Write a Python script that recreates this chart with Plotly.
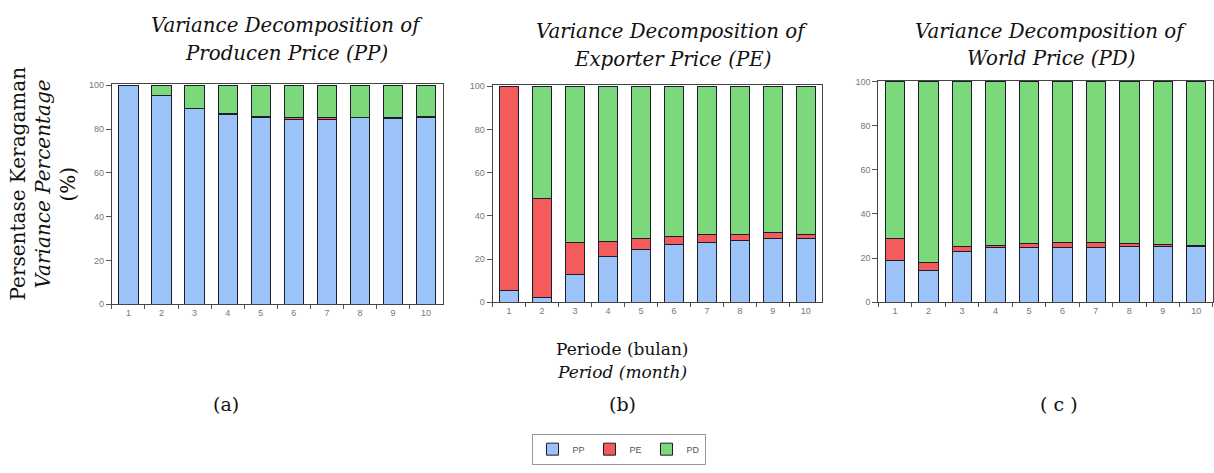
import plotly.graph_objects as go

periods = ["1", "2", "3", "4", "5", "6", "7", "8", "9", "10"]

# Panel (a): Variance Decomposition of Producen Price (PP)
a_pp = [100.0, 95.1, 89.2, 86.6, 85.1, 84.4, 84.4, 85.1, 84.8, 85.1]
a_pe = [0.0, 0.2, 0.3, 0.3, 0.4, 0.7, 0.7, 0.3, 0.3, 0.5]
a_pd = [0.0, 4.7, 10.5, 13.1, 14.5, 14.9, 14.9, 14.6, 14.9, 14.4]

# Panel (b): Variance Decomposition of Exporter Price (PE)
b_pp = [5.5, 2.3, 12.6, 21.1, 24.4, 26.9, 27.8, 28.5, 29.4, 29.4]
b_pe = [94.5, 45.8, 15.2, 7.1, 5.2, 3.4, 3.6, 3.0, 2.8, 2.1]
b_pd = [0.0, 51.9, 72.2, 71.8, 70.4, 69.7, 68.6, 68.5, 67.8, 68.5]

# Panel (c): Variance Decomposition of World Price (PD)
c_pp = [18.7, 14.6, 22.8, 24.6, 24.6, 25.0, 25.0, 25.3, 25.1, 25.1]
c_pe = [10.4, 3.3, 2.5, 1.0, 2.2, 2.2, 2.2, 1.2, 1.2, 0.7]
c_pd = [70.9, 82.1, 74.7, 74.4, 73.2, 72.8, 72.8, 73.5, 73.7, 74.2]

series_names = ["PP", "PE", "PD"]
colors = {"PP": "#9cc3f7", "PE": "#f45b5b", "PD": "#7bd87b"}
edge = "#1c1c2a"

panels = [
    ("x", "y", [a_pp, a_pe, a_pd]),
    ("x2", "y2", [b_pp, b_pe, b_pd]),
    ("x3", "y3", [c_pp, c_pe, c_pd]),
]

W, H = 1214, 473

def px(v):
    return v / W

def py(v):
    return 1 - v / H

fig = go.Figure()
for i, (xa, ya, vals) in enumerate(panels):
    for name, v in zip(series_names, vals):
        fig.add_trace(go.Bar(
            x=periods, y=v, name=name, xaxis=xa, yaxis=ya,
            marker=dict(color=colors[name], line=dict(color=edge, width=1)),
            showlegend=(i == 0), legendgroup=name,
        ))

domains_x = [(112, 443), (493, 823), (879, 1214)]
domains_y = [(306, 81.7), (304, 82.7), (304, 78)]

tickfont = dict(family="Liberation Sans, Arial, sans-serif", size=9, color="#777")
layout_axes = {}
for i in range(3):
    sx = "" if i == 0 else str(i + 1)
    dx = domains_x[i]
    dy = domains_y[i]
    layout_axes["xaxis" + sx] = dict(
        domain=[px(dx[0]), px(dx[1])], anchor="y" + sx, type="category",
        tickson="boundaries", ticks="outside", ticklen=4, tickcolor="#555",
        showline=True, linecolor="#444", linewidth=1, mirror=True,
        tickfont=tickfont, showgrid=False, zeroline=False,
    )
    layout_axes["yaxis" + sx] = dict(
        domain=[py(dy[0]), py(dy[1])], anchor="x" + sx, range=[0, 100.5],
        tickvals=[0, 20, 40, 60, 80, 100], ticks="outside", ticklen=5,
        tickcolor="#555", showline=True, linecolor="#444", linewidth=1,
        mirror=True, tickfont=tickfont, showgrid=False, zeroline=False,
    )

serif = "DejaVu Serif, serif"
ann = []
titles = [
    (287, "Variance Decomposition of", "Producen Price (PP)", 22, 50),
    (673, "Variance Decomposition of", "Exporter Price (PE)", 28, 57),
    (1052, "Variance Decomposition of", "World Price (PD)", 28, 56),
]
for cx, l1, l2, y1, y2 in titles:
    ann.append(dict(x=px(cx), y=py(y1), text="<i>" + l1 + "</i>", showarrow=False,
                    xref="paper", yref="paper", xanchor="center", yanchor="middle",
                    font=dict(family=serif, size=19.8, color="#111")))
    ann.append(dict(x=px(cx), y=py(y2), text="<i>" + l2 + "</i>", showarrow=False,
                    xref="paper", yref="paper", xanchor="center", yanchor="middle",
                    font=dict(family=serif, size=19.8, color="#111")))

# y-axis label (three lines, rotated)
ylab = [(18, "Persentase Keragaman"), (43, "<i>Variance Percentage</i>"), (68, "(%)")]
for xx, t in ylab:
    ann.append(dict(x=px(xx), y=py(183), text=t, textangle=-90, showarrow=False,
                    xref="paper", yref="paper", xanchor="center", yanchor="middle",
                    font=dict(family=serif, size=20, color="#111")))

# x-axis label
ann.append(dict(x=px(623), y=py(352), text="Periode (bulan)", showarrow=False,
                xref="paper", yref="paper", xanchor="center", yanchor="middle",
                font=dict(family=serif, size=17, color="#111")))
ann.append(dict(x=px(623), y=py(375), text="<i>Period (month)</i>", showarrow=False,
                xref="paper", yref="paper", xanchor="center", yanchor="middle",
                font=dict(family=serif, size=17, color="#111")))

# panel letters
for cx, t in [(226, "(a)"), (623, "(b)"), (1060, "( c )")]:
    ann.append(dict(x=px(cx), y=py(408), text=t, showarrow=False,
                    xref="paper", yref="paper", xanchor="center", yanchor="middle",
                    font=dict(family=serif, size=19, color="#111")))

fig.update_layout(
    width=W, height=H,
    margin=dict(l=0, r=0, t=0, b=0),
    paper_bgcolor="white", plot_bgcolor="white",
    barmode="stack", bargap=0.42,
    annotations=ann,
    legend=dict(orientation="h", x=px(620), y=py(438), xanchor="center",
                yanchor="top", bordercolor="#999", borderwidth=1,
                font=dict(family="Liberation Sans, Arial, sans-serif", size=9, color="#555"),
                itemwidth=30, bgcolor="white"),
    **layout_axes,
)

fig.write_html("out.html", config={"displayModeBar": False},
               post_script="document.body.style.margin='0';document.body.style.overflow='hidden';")
